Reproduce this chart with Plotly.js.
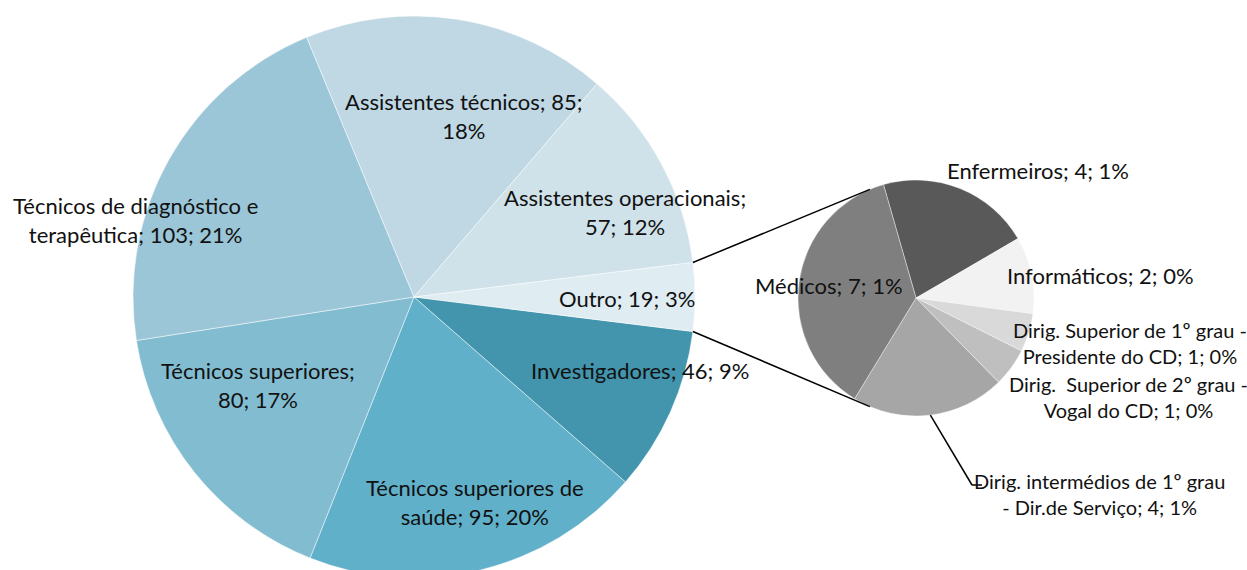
<!DOCTYPE html>
<html><head><meta charset="utf-8">
<script src="https://cdn.plot.ly/plotly-3.0.1.min.js"></script>
<style>html,body{margin:0;padding:0;overflow:hidden;background:#fff}#chart{width:1247px;height:580px}</style>
</head><body><div id="chart"></div>
<script>
// ---- data ----
const mainCategories = ["Investigadores", "Técnicos superiores de saúde", "Técnicos superiores",
  "Técnicos de diagnóstico e terapêutica", "Assistentes técnicos", "Assistentes operacionais", "Outro"];
const mainValues = [46, 95, 80, 103, 85, 57, 19];
const mainPercents = ["9%", "20%", "17%", "21%", "18%", "12%", "3%"];
const mainBreakAfter = [null, "superiores de ", "superiores; ", "diagnóstico e ", "85; ", "operacionais; ", null];

const otherCategories = ["Enfermeiros", "Informáticos", "Dirig. Superior de 1º grau - Presidente do CD",
  "Dirig.\u00a0 Superior de 2º grau - Vogal do CD", "Dirig. intermédios de 1º grau - Dir.de Serviço", "Médicos"];
const otherValues = [4, 2, 1, 1, 4, 7];
const otherPercents = ["1%", "0%", "0%", "0%", "1%", "1%"];
const otherBreakAfter = [null, null, "grau - ", "grau - ", "grau ", null];

// ---- styles / layout geometry (pixels) ----
const W = 1247, H = 580;
const mainColors = ["#4295ad", "#60b0c9", "#82bcd0", "#9bc6d7", "#bfd8e3", "#cfe2e9", "#dfecf1"];
const otherColors = ["#595959", "#f2f2f2", "#d9d9d9", "#bfbfbf", "#a6a6a6", "#7f7f7f"];
const mainCenter = [414, 297], mainR = 281;
const otherCenter = [916, 298], otherR = 118;
const mainLabelPos = [[640, 370], [475, 502], [258, 385], [135, 220], [463, 116], [625, 212], [627, 298]];
const otherLabelPos = [[1038, 170], [1100, 275], [1130, 343], [1128, 397], [1099, 494], [829, 285]];
const mainFontSize = 22;
const otherFontSizes = [22, 22, 20, 20, 20, 22];
const connectorAngle = 23;   // deg from vertical on the secondary pie
const leaderStartAngle = 173; // deg, on secondary pie edge
const leaderElbow = [972, 485], leaderEnd = [982, 485];
const FONT = "Lato, 'Open Sans', sans-serif";

const px = x => x / W, py = y => 1 - y / H;

function wrapLabel(name, value, pct, brk) {
  let t = name + "; " + value + "; " + pct;
  if (brk) {
    const i = t.indexOf(brk);
    if (i >= 0) t = t.slice(0, i + brk.length).trimEnd() + "<br>" + t.slice(i + brk.length);
  }
  return t;
}

const sum = a => a.reduce((s, v) => s + v, 0);
const outroDeg = mainValues[mainValues.length - 1] / sum(mainValues) * 360;
const mainRotation = 90 + outroDeg / 2;
const otherRotation = -16;

const traces = [
  {
    type: "pie", labels: mainCategories, values: mainValues, sort: false, direction: "clockwise",
    rotation: mainRotation, textinfo: "none", hoverinfo: "none", showlegend: false,
    marker: { colors: mainColors, line: { color: "rgba(255,255,255,0.6)", width: 0.8 } },
    domain: { x: [px(mainCenter[0] - mainR), px(mainCenter[0] + mainR)],
              y: [py(mainCenter[1] + mainR), py(mainCenter[1] - mainR)] }
  },
  {
    type: "pie", labels: otherCategories, values: otherValues, sort: false, direction: "clockwise",
    rotation: otherRotation, textinfo: "none", hoverinfo: "none", showlegend: false,
    marker: { colors: otherColors, line: { color: "rgba(255,255,255,0.5)", width: 0.8 } },
    domain: { x: [px(otherCenter[0] - otherR), px(otherCenter[0] + otherR)],
              y: [py(otherCenter[1] + otherR), py(otherCenter[1] - otherR)] }
  }
];

const annotations = [];
mainCategories.forEach((c, i) => annotations.push({
  xref: "paper", yref: "paper", x: px(mainLabelPos[i][0]), y: py(mainLabelPos[i][1]),
  xanchor: "center", yanchor: "middle", showarrow: false,
  text: wrapLabel(c, mainValues[i], mainPercents[i], mainBreakAfter[i]),
  font: { family: FONT, size: mainFontSize, color: "#111" }
}));
otherCategories.forEach((c, i) => annotations.push({
  xref: "paper", yref: "paper", x: px(otherLabelPos[i][0]), y: py(otherLabelPos[i][1]),
  xanchor: "center", yanchor: "middle", showarrow: false,
  text: wrapLabel(c, otherValues[i], otherPercents[i], otherBreakAfter[i]),
  font: { family: FONT, size: otherFontSizes[i], color: "#111" }
}));

function onCircle(c, r, deg) {
  const a = deg * Math.PI / 180;
  return [c[0] + r * Math.sin(a), c[1] - r * Math.cos(a)];
}
const mTop = onCircle(mainCenter, mainR, 90 - outroDeg / 2);
const mBot = onCircle(mainCenter, mainR, 90 + outroDeg / 2);
const sTop = onCircle(otherCenter, otherR, -connectorAngle);
const sBot = onCircle(otherCenter, otherR, 180 + connectorAngle);
const lStart = onCircle(otherCenter, otherR, leaderStartAngle);
const line = (a, b) => ({ type: "line", xref: "paper", yref: "paper",
  x0: px(a[0]), y0: py(a[1]), x1: px(b[0]), y1: py(b[1]), line: { color: "#000", width: 1.5 } });
const shapes = [line(mTop, sTop), line(mBot, sBot), line(lStart, leaderElbow), line(leaderElbow, leaderEnd)];

Plotly.newPlot("chart", traces, {
  width: W, height: H, margin: { l: 0, r: 0, t: 0, b: 0 },
  paper_bgcolor: "#fff", annotations, shapes
}, { staticPlot: true, displayModeBar: false });
</script></body></html>
